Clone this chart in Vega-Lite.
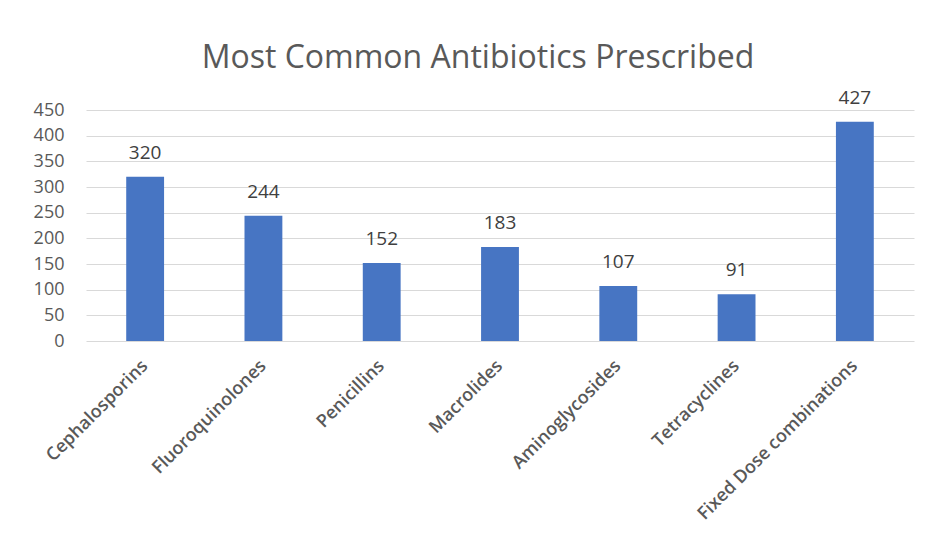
{
  "$schema": "https://vega.github.io/schema/vega-lite/v6.json",
  "autosize": {"type": "none"},
  "width": 828,
  "height": 231,
  "padding": {"left": 86, "top": 110, "right": 17, "bottom": 216},
  "background": "white",
  "title": {
    "text": "Most Common Antibiotics Prescribed",
    "fontSize": 32,
    "font": "Open Sans",
    "fontWeight": "normal",
    "color": "#595959",
    "anchor": "middle",
    "dx": -22,
    "offset": 14
  },
  "data": {
    "values": [
      {"drug": "Cephalosporins", "count": 320},
      {"drug": "Fluoroquinolones", "count": 244},
      {"drug": "Penicillins", "count": 152},
      {"drug": "Macrolides", "count": 183},
      {"drug": "Aminoglycosides", "count": 107},
      {"drug": "Tetracyclines", "count": 91},
      {"drug": "Fixed Dose combinations", "count": 427}
    ]
  },
  "encoding": {
    "x": {
      "field": "drug",
      "type": "nominal",
      "sort": null,
      "scale": {"paddingInner": 0.68, "paddingOuter": 0.34},
      "axis": {
        "title": null,
        "labelAngle": -45,
        "labelAlign": "right",
        "labelBaseline": "middle",
        "labelFontSize": 18,
        "labelFont": "Open Sans",
        "labelFontWeight": 600,
        "labelColor": "#595959",
        "labelPadding": 22,
        "labelLimit": 0,
        "ticks": false,
        "domain": false,
        "grid": false
      }
    },
    "y": {
      "field": "count",
      "type": "quantitative",
      "scale": {"domain": [0, 450]},
      "axis": {
        "title": null,
        "values": [0, 50, 100, 150, 200, 250, 300, 350, 400, 450],
        "labelFontSize": 18,
        "labelFont": "Open Sans",
        "labelColor": "#595959",
        "labelPadding": 22,
        "ticks": false,
        "domain": false,
        "gridColor": "#d9d9d9",
        "gridWidth": 1
      }
    }
  },
  "layer": [
    {"mark": {"type": "bar", "color": "#4775C3"}},
    {
      "mark": {"type": "text", "dy": -14, "baseline": "bottom", "fontSize": 19, "font": "Open Sans", "color": "#404040"},
      "encoding": {"text": {"field": "count", "type": "quantitative"}}
    }
  ],
  "config": {"view": {"stroke": null}}
}
